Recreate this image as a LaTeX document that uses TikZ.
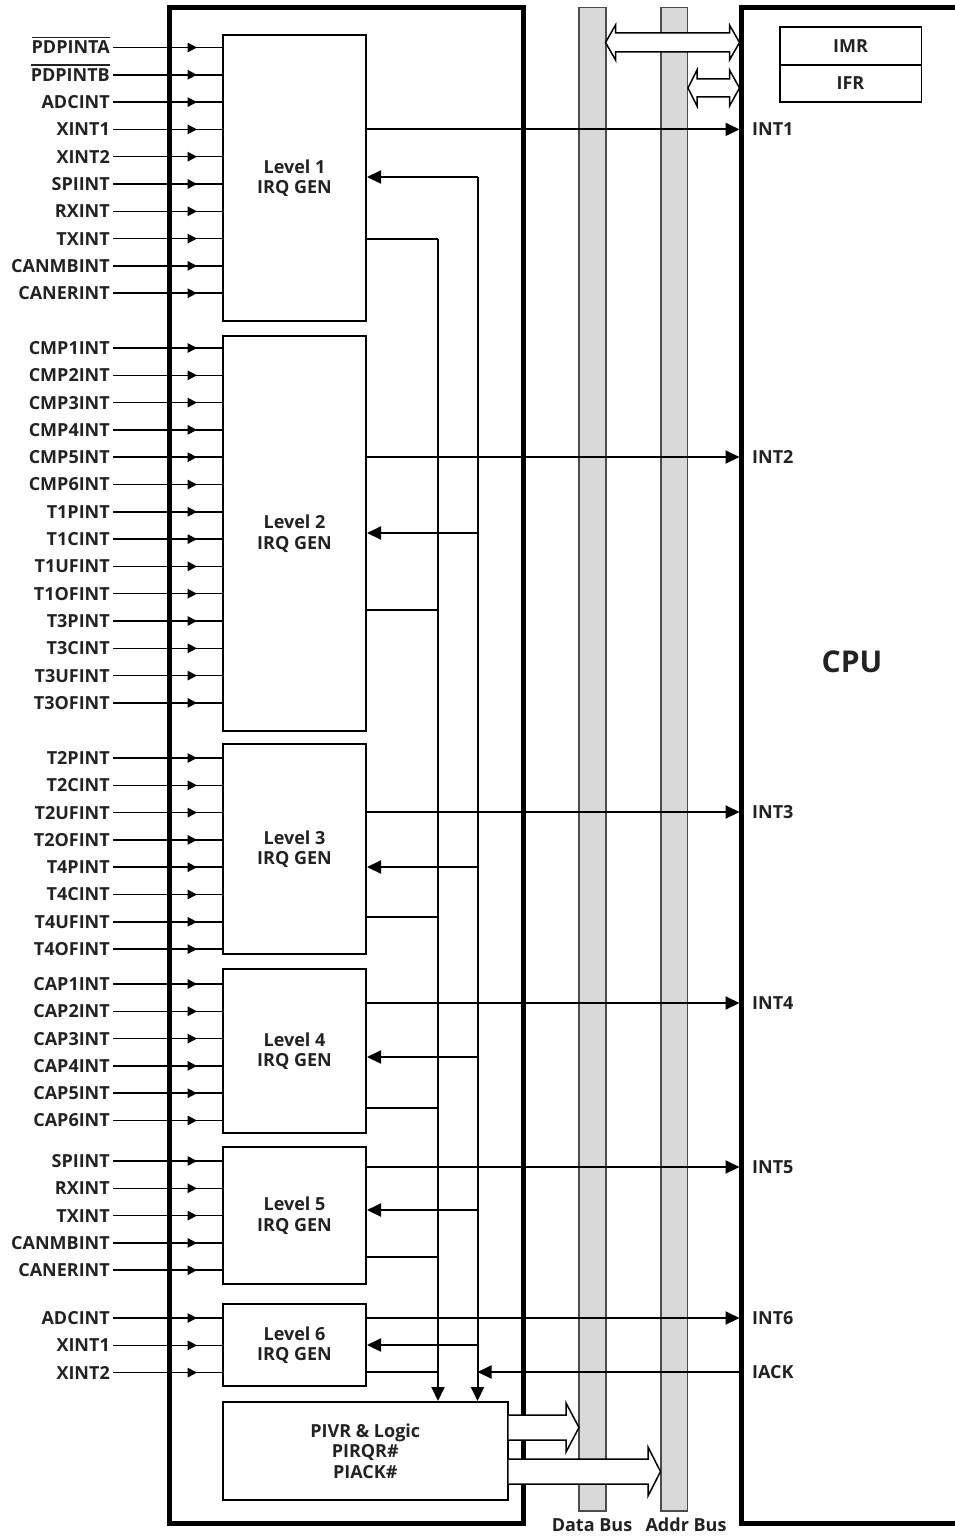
\documentclass[tikz,border=0pt]{standalone}
\usepackage{fontspec}
\setmainfont{Open Sans}
\usetikzlibrary{arrows.meta,calc}
\definecolor{txt}{HTML}{222222}
\definecolor{busgray}{HTML}{D9D9D9}
\newcommand\ovl[1]{\setbox0\hbox{#1}\rlap{\raisebox{15.5pt}[0pt][0pt]{\rule{\wd0}{1.4pt}}}\box0}
\tikzset{
  every node/.style={font=\fontsize{18}{20.5}\selectfont\bfseries, text=txt},
  lbl/.style={anchor=east, inner xsep=3pt, inner ysep=0pt},
  intlbl/.style={anchor=west, inner sep=0pt},
  lvl/.style={draw, line width=2pt, minimum width=143pt, align=center, inner sep=0pt},
  reg/.style={draw, line width=1.5pt, minimum width=141.5pt, inner sep=0pt},
  inl/.style={line width=1.5pt},
  wire/.style={line width=2pt},
  tip/.style={-{Triangle[length=14pt,width=13pt]}},
  stip/.style={-{Triangle[length=9.5pt,width=9.5pt]}},
  hollow/.style={draw, line width=1.5pt, fill=white, line join=miter},
  bus/.style={draw=black!70, line width=1.2pt, fill=busgray},
  frame/.style={line width=5pt, line join=miter}
}
\newcommand\ins[3]{%
  \foreach \s [count=\k from 0] in {#3}{%
    \node[lbl] (#1n\k) at (113,{#2+27.3*\k}) {\s};
    \draw[inl] (#1n\k.east) -- (#1.west |- #1n\k.east);
    \draw[inl,stip] (#1n\k.east) -- ($(#1.west |- #1n\k.east)+(-25,0)$);
  }}
\begin{document}
\begin{tikzpicture}[x=1pt,y=-1pt]
\useasboundingbox (0,0) rectangle (955,1536);
% buses
\draw[bus] (579,7.5) rectangle (606,1511);
\draw[bus] (661,7.5) rectangle (687.5,1511);
\node (dbus) at (592,1525) {Data Bus};
\node (abus) at (686,1525) {Addr Bus};
% frames
\draw[frame] (169.5,7.5) rectangle (523.5,1523);
\draw[frame] (975,7.5) -- (741.5,7.5) -- (741.5,1523) -- (975,1523);
\node[font=\fontsize{30}{34}\selectfont\bfseries] (cpu) at (852,662) {CPU};
\node[reg, minimum height=38pt] (imr) at (850.5,46) {IMR};
\node[reg, minimum height=37pt] (ifr) at (850.5,83.5) {IFR};
% level boxes
\node[lvl, minimum height=286pt] (L1) at (294.5,178) {Level 1\\IRQ GEN};
\node[lvl, minimum height=395pt] (L2) at (294.5,533.5) {Level 2\\IRQ GEN};
\node[lvl, minimum height=210pt] (L3) at (294.5,849) {Level 3\\IRQ GEN};
\node[lvl, minimum height=164pt] (L4) at (294.5,1051) {Level 4\\IRQ GEN};
\node[lvl, minimum height=137pt] (L5) at (294.5,1215.5) {Level 5\\IRQ GEN};
\node[lvl, minimum height=82pt] (L6) at (294.5,1345) {Level 6\\IRQ GEN};
\node[lvl, minimum width=284.5pt, minimum height=98pt] (PV) at (365.25,1451) {PIVR \& Logic\\PIRQR\#\\PIACK\#};
% inputs
\ins{L1}{47.5}{\ovl{PDPINTA},\ovl{PDPINTB},ADCINT,XINT1,XINT2,SPIINT,RXINT,TXINT,CANMBINT,CANERINT}
\ins{L2}{348}{CMP1INT,CMP2INT,CMP3INT,CMP4INT,CMP5INT,CMP6INT,T1PINT,T1CINT,T1UFINT,T1OFINT,T3PINT,T3CINT,T3UFINT,T3OFINT}
\ins{L3}{758}{T2PINT,T2CINT,T2UFINT,T2OFINT,T4PINT,T4CINT,T4UFINT,T4OFINT}
\ins{L4}{984}{CAP1INT,CAP2INT,CAP3INT,CAP4INT,CAP5INT,CAP6INT}
\ins{L5}{1161}{SPIINT,RXINT,TXINT,CANMBINT,CANERINT}
\ins{L6}{1318}{ADCINT,XINT1,XINT2}
% CPU side coordinates
\coordinate (cpuA) at (739.5,0);
\coordinate (cpuE) at (741.5,0);
% outputs
\node[intlbl] (I1) at (752,129.4) {INT1};
\node[intlbl] (I2) at (752,457) {INT2};
\node[intlbl] (I3) at (752,812) {INT3};
\node[intlbl] (I4) at (752,1003) {INT4};
\node[intlbl] (I5) at (752,1167) {INT5};
\node[intlbl] (I6) at (752,1318) {INT6};
\node[intlbl] (IA) at (752,1372) {IACK};
\foreach \n in {1,...,6}{\draw[wire,tip] (L\n.east |- I\n.west) -- (cpuA |- I\n.west);}
% feedback / request buses
\coordinate (fb) at (477.5,177);
\coordinate (rq) at (438,239);
\coordinate (f2) at (477.5,533);
\coordinate (f3) at (477.5,867);
\coordinate (f4) at (477.5,1057);
\coordinate (f5) at (477.5,1210);
\coordinate (f6) at (477.5,1345);
\coordinate (r2) at (438,610);
\coordinate (r3) at (438,917);
\coordinate (r4) at (438,1108);
\coordinate (r5) at (438,1257);
\coordinate (r6) at (438,1372);
\draw[wire,tip] (fb) -- (PV.north -| fb);
\draw[wire,tip] (rq) -- (PV.north -| rq);
\draw[wire,tip] (fb) -- (L1.east |- fb);
\foreach \n in {2,...,6}{\draw[wire,tip] (f\n) -- (L\n.east |- f\n);}
\draw[wire] (L1.east |- rq) -- (rq);
\foreach \n in {2,...,6}{\draw[wire] (L\n.east |- r\n) -- (r\n);}
\draw[wire,tip] (cpuE |- IA.west) -- (fb |- IA.west);
% hollow arrows
\draw[hollow] (605.5,42.5) -- (615.5,25) -- (615.5,33) -- (729.5,33) -- (729.5,25) -- (739.5,42.5) -- (729.5,60) -- (729.5,52) -- (615.5,52) -- (615.5,60) -- cycle;
\draw[hollow] (688,88) -- (697,70) -- (697,79) -- (729.5,79) -- (729.5,70) -- (739.5,88) -- (729.5,106) -- (729.5,97) -- (697,97) -- (697,106) -- cycle;
\draw[hollow] (PV.east |- 0,1415) -- (566,1415) -- (566,1403) -- (579,1427.5) -- (566,1452) -- (566,1440) -- (PV.east |- 0,1440);
\draw[hollow] (PV.east |- 0,1459) -- (648,1459) -- (648,1447) -- (660.5,1471.5) -- (648,1496) -- (648,1484) -- (PV.east |- 0,1484);
\end{tikzpicture}
\end{document}
